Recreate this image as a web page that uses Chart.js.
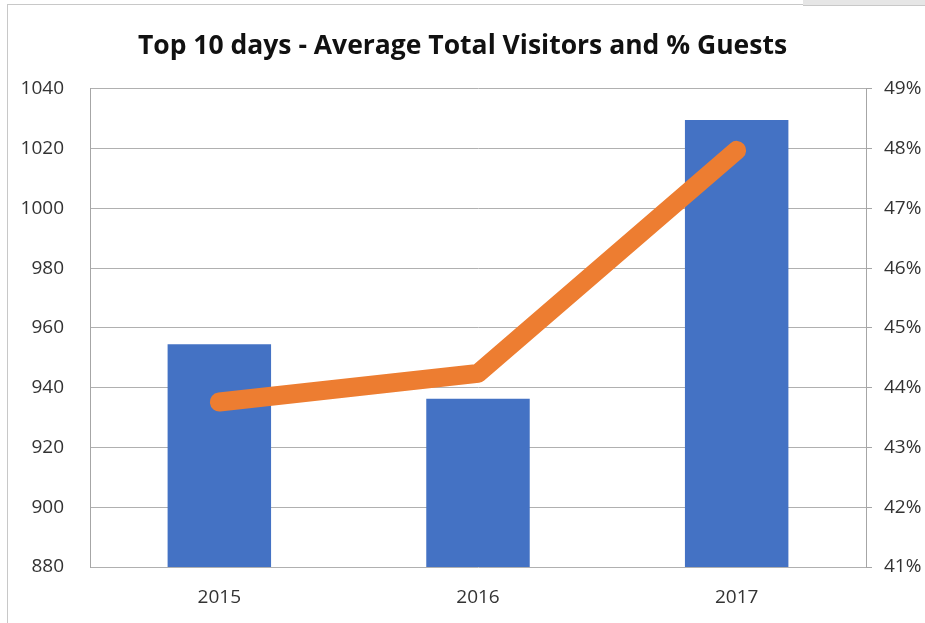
<!DOCTYPE html>
<html>
<head>
<meta charset="utf-8">
<script src="https://cdn.jsdelivr.net/npm/chart.js@4"></script>
<style>
  body { margin: 0; background: #fff; }
  #wrap { position: relative; width: 925px; height: 623px; }
  #frameTop { position: absolute; left: 7px; top: 4px; width: 796px; height: 1px; background: #c8c8c8; }
  #frameLeft { position: absolute; left: 7px; top: 4px; width: 1px; height: 619px; background: #c8c8c8; }
  #tab { position: absolute; left: 803px; top: 0; width: 122px; height: 5px; background: #e6e6e6; border-bottom: 1px solid #c8c8c8; }
</style>
</head>
<body>
<div id="wrap">
  <canvas id="chart" width="925" height="623"></canvas>
  <div id="frameTop"></div>
  <div id="frameLeft"></div>
  <div id="tab"></div>
</div>
<script>
  // Chart data
  const years = ['2015', '2016', '2017'];
  const avgVisitors = [954.5, 936.3, 1029.6];
  const pctGuests = [43.76, 44.24, 47.97];

  const ctx = document.getElementById('chart').getContext('2d');

  new Chart(ctx, {
    data: {
      labels: years,
      datasets: [
        {
          type: 'line',
          label: '% Guests',
          data: pctGuests,
          yAxisID: 'y1',
          borderColor: '#ED7D31',
          borderWidth: 19,
          borderCapStyle: 'round',
          borderJoinStyle: 'round',
          pointRadius: 0,
          tension: 0,
          fill: false,
          order: 0
        },
        {
          type: 'bar',
          label: 'Average Total Visitors',
          data: avgVisitors,
          yAxisID: 'y',
          backgroundColor: '#4472C4',
          barPercentage: 0.4,
          categoryPercentage: 1,
          order: 1
        }
      ]
    },
    options: {
      responsive: false,
      animation: false,
      layout: { padding: 0 },
      plugins: {
        legend: { display: false },
        tooltip: { enabled: false },
        title: {
          display: true,
          text: 'Top 10 days - Average Total Visitors and % Guests',
          color: '#111',
          font: { family: 'Open Sans', size: 26.5, weight: 'bold' },
          padding: { top: 31, bottom: 26 }
        }
      },
      scales: {
        x: {
          afterFit: function(scale) { scale.height = 56; },
          grid: { display: false, drawTicks: false },
          border: { display: false },
          ticks: { color: '#333', font: { family: 'Open Sans', size: 19 }, padding: 19 }
        },
        y: {
          position: 'left',
          min: 880,
          max: 1040,
          afterFit: function(scale) { scale.width = 90; },
          grid: { color: '#b0b0b0', drawTicks: false },
          border: { display: true, color: '#a6a6a6' },
          ticks: {
            stepSize: 20,
            color: '#333',
            font: { family: 'Open Sans', size: 19 },
            padding: 26,
            callback: function(v) { return String(v); }
          }
        },
        y1: {
          position: 'right',
          min: 41,
          max: 49,
          afterFit: function(scale) { scale.width = 59; },
          grid: { display: true, drawOnChartArea: false, drawTicks: true, tickLength: 6, color: '#a6a6a6' },
          border: { display: true, color: '#a6a6a6' },
          ticks: {
            stepSize: 1,
            color: '#333',
            font: { family: 'Open Sans', size: 19 },
            padding: 12,
            callback: function(v) { return v + '%'; }
          }
        }
      }
    }
  });
</script>
</body>
</html>
